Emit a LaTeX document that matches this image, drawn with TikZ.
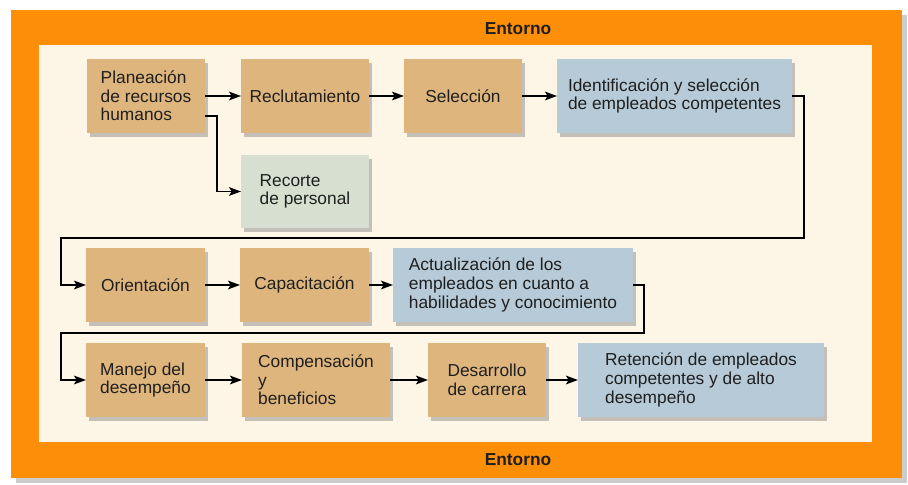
\documentclass[tikz,border=0pt]{standalone}
\usepackage{fontspec}
\setmainfont{Liberation Sans}
\usetikzlibrary{arrows.meta,shadows}

\definecolor{entorno}{RGB}{253,142,8}
\definecolor{fondo}{RGB}{253,245,229}
\definecolor{tan}{RGB}{222,181,125}
\definecolor{azul}{RGB}{182,202,215}
\definecolor{verde}{RGB}{214,223,208}

\begin{document}
\begin{tikzpicture}[x=0.75pt,y=-0.75pt,
    txt/.style={font=\fontsize{13pt}{14pt}\selectfont,text=black!88},
    sombra/.style={drop shadow={shadow xshift=2.5pt,shadow yshift=-3pt,opacity=.45}},
    caja/.style={txt,sombra,align=left,inner sep=0pt,outer sep=0pt,minimum height=55pt},
    flecha/.style={draw,line width=1.3pt,-{Stealth[length=9pt,width=6.5pt,inset=2pt]}}]

      \useasboundingbox (0,0) rectangle (908,485);

      % marco del entorno
      \fill[entorno,drop shadow={shadow xshift=4pt,shadow yshift=-4pt,opacity=.4}] (11,10) rectangle (902,478);
      \fill[fondo] (39,45) rectangle (872,442);
      \node[txt,font=\fontsize{13pt}{14pt}\selectfont\bfseries] (ent1) at (518,29) {Entorno};
      \node[txt,font=\fontsize{13pt}{14pt}\selectfont\bfseries] (ent2) at (518,460) {Entorno};

      \begin{scope}[every node/.style={caja,fill=tan}]
        \node (plan)    at (146,96)   [minimum width=88.5pt]  {Planeación\\de recursos\\humanos};
        \node (reclut)  at (305,96)   [minimum width=96pt]    {Reclutamiento};
        \node (selec)   at (463,96)   [minimum width=88.5pt]  {Selección};
        \node (orient)  at (145.5,285) [minimum width=89.25pt] {Orientación};
        \node (capac)   at (304.5,285) [minimum width=96.75pt] {Capacitación};
        \node (manejo)  at (145.5,380) [minimum width=89.25pt] {Manejo del\\desempeño};
        \node (compen)  at (316,380)   [minimum width=111pt]   {Compensación\\y\\beneficios};
        \node (desarr)  at (487,380)   [minimum width=88.5pt]  {Desarrollo\\de carrera};
      \end{scope}

      \begin{scope}[every node/.style={caja,fill=azul}]
        \node (ident)   at (674.5,96)  [minimum width=176.25pt] {Identificación y selección\\de empleados competentes};
        \node (actual)  at (513,285)   [minimum width=180pt]    {Actualización de los\\empleados en cuanto a\\habilidades y conocimiento};
        \node (reten)   at (701,380)   [minimum width=184.5pt]  {Retención de empleados\\competentes y de alto\\desempeño};
      \end{scope}

      \node[caja,fill=verde] (recorte) at (305,191.5) [minimum width=96pt] {Recorte\\de personal};

      \coordinate (vuelta1) at (61,238);
      \coordinate (vuelta2) at (61,333);

      \begin{scope}[every edge/.style={flecha}]
        \path (plan)   edge (reclut);
        \path (reclut) edge (selec);
        \path (selec)  edge (ident);
        \path (orient) edge (capac);
        \path (capac)  edge (actual);
        \path (manejo) edge (compen);
        \path (compen) edge (desarr);
        \path (desarr) edge (reten);
      \end{scope}

      \draw[flecha] ([yshift=-15pt]plan.east) -- ++(12,0) |- (recorte.west);
      \draw[flecha] (ident.east) -- ++(12,0) |- (vuelta1) |- (orient.west);
      \draw[flecha] (actual.east) -- ++(11,0) |- (vuelta2) |- (manejo.west);

    \end{tikzpicture}
\end{document}
